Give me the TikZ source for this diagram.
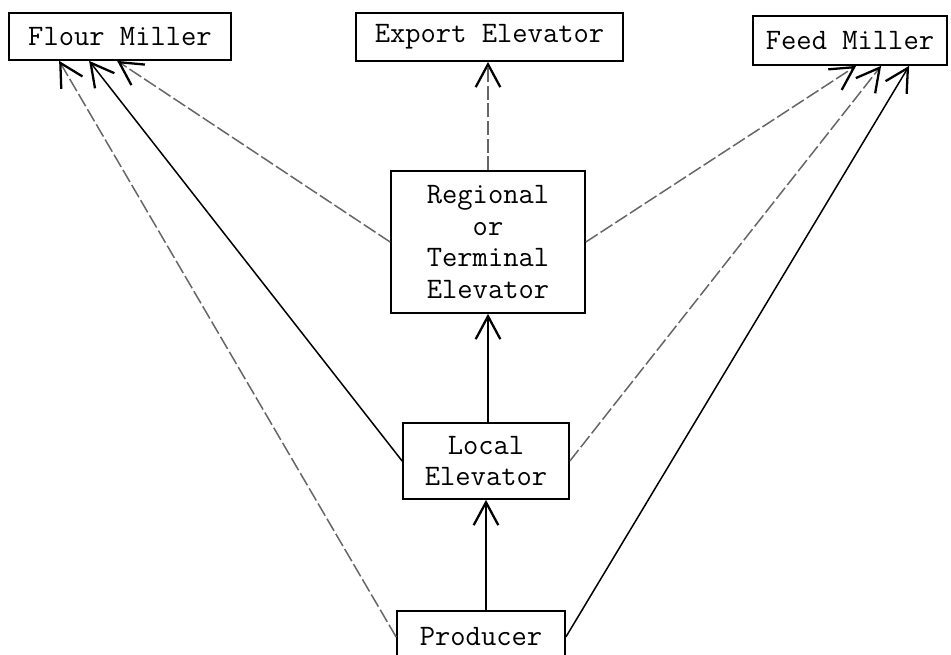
\documentclass[tikz,border=0pt]{standalone}
\usepackage{tikz}
\usetikzlibrary{arrows.meta}
\tikzset{
every node/.style={font=\ttfamily\fontsize{16.9}{18}\selectfont}
, boxnode/.style={draw, line width=1pt, inner sep=0pt, align=center}
, flow/.style={line width=0.85pt, -{Straight Barb[length=13pt,width=14pt,line width=1.3pt,color=black]}}
, faintflow/.style={flow, color=black!60, dash pattern=on 8pt off 2pt}}

\begin{document}
\begin{tikzpicture}[x=0.02cm, y=-0.02cm]
\clip (0,0) rectangle (951,655);
\node[boxnode, minimum width=4.44cm, minimum height=0.94cm] at (120,36.5) (flour) {Flour Miller};
\node[boxnode, minimum width=5.34cm, minimum height=0.96cm] at (489.5,37) (export) {Export Elevator};
\node[boxnode, minimum width=3.88cm, minimum height=0.98cm] at (850,40.5) (feed) {Feed Miller};
\node[boxnode, minimum width=3.88cm, minimum height=2.84cm] at (488,242) (regional) {Regional\\
  or\\ Terminal\\ Elevator};
\node[boxnode, minimum width=3.32cm, minimum height=1.52cm] at (486,461) (local) {Local\\ Elevator};
\node[boxnode, minimum width=3.36cm, minimum height=1.04cm] at (481,637) (producer) {Producer};
% straight up the middle
\draw [flow] (producer.north -| local.south) -- (local.south);
\draw [flow] (local.north -| regional.south) -- (regional.south);
\draw [faintflow] (regional.north) -- (export.south -| regional.north);
% to the flour miller
\draw [faintflow] (producer.west) -- ([xshift=1.02cm]flour.south west);
\draw [flow] (local.west) -- ([xshift=1.62cm]flour.south west);
\draw [faintflow] (regional.west) -- ([xshift=2.18cm]flour.south west);
% to the feed miller
\draw [faintflow] (regional.east) -- ([xshift=2.08cm]feed.south west);
\draw [faintflow] (local.east) -- ([xshift=2.58cm]feed.south west);
\draw [flow] (producer.east) -- ([xshift=3.14cm]feed.south west);
\end{tikzpicture}
\end{document}
